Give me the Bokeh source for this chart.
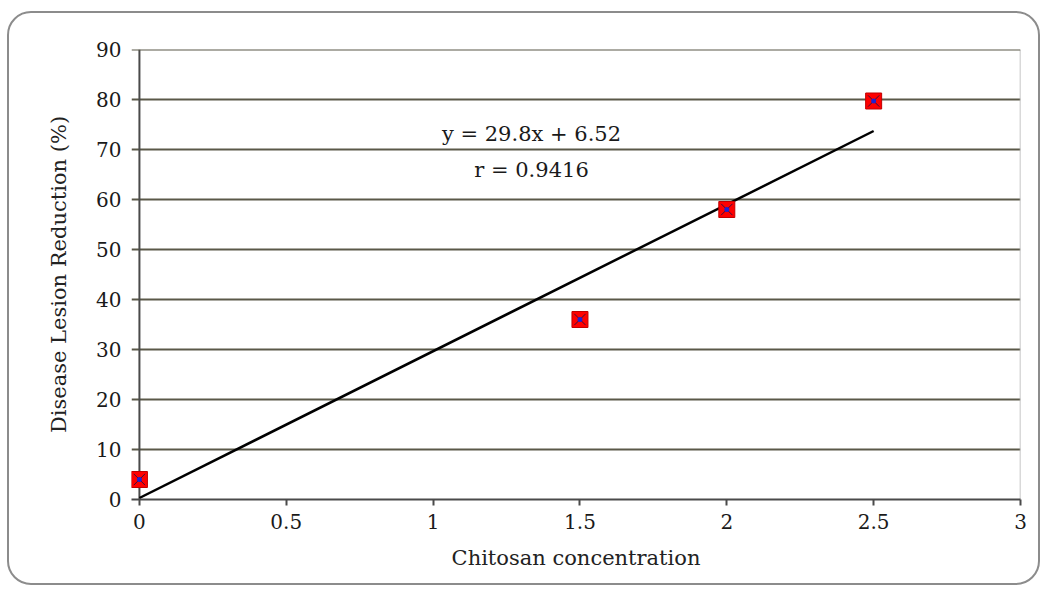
from bokeh.plotting import figure
from bokeh.models import Range1d, FixedTicker, NumeralTickFormatter, Label, Span
from bokeh.embed import file_html
from bokeh.resources import INLINE

# Data
conc = [0.0, 1.5, 2.0, 2.5]
reduction = [4.0, 36.0, 58.0, 79.7]
trend_x = [0.0, 2.5]
trend_y = [0.3, 73.7]
x_ticks = [0, 0.5, 1, 1.5, 2, 2.5, 3]
y_ticks = [0, 10, 20, 30, 40, 50, 60, 70, 80, 90]
eq_text = "y = 29.8x + 6.52"
r_text = "r = 0.9416"

FONT = "DejaVu Serif"

p = figure(width=1033, height=574, output_backend="svg", toolbar_location=None,
           x_range=Range1d(-0.027, 3), y_range=Range1d(0, 90),
           min_border_left=122, min_border_right=22, min_border_top=36, min_border_bottom=88)
p.styles = {"border": "2px solid #8c8c8c", "border-radius": "24px",
            "margin-left": "7px", "margin-top": "11px"}
p.border_fill_alpha = 0
p.background_fill_color = "white"
p.outline_line_color = None

p.xgrid.grid_line_color = None
p.ygrid.grid_line_color = "#5a5848"
p.ygrid.grid_line_width = 2

p.xaxis.ticker = FixedTicker(ticks=x_ticks)
p.yaxis.ticker = FixedTicker(ticks=y_ticks)
p.xaxis.formatter = NumeralTickFormatter(format="0.[0]")
p.xaxis.minor_tick_line_color = None
p.yaxis.minor_tick_line_color = None
for ax in (p.xaxis, p.yaxis):
    ax.axis_line_color = "#4a4a4a"
    ax.axis_line_width = 2
    ax.major_tick_line_color = "#4a4a4a"
    ax.major_tick_line_width = 2
    ax.major_tick_in = 0
    ax.major_label_text_font = FONT
    ax.major_label_text_font_size = "20px"
    ax.major_label_text_color = "#1a1a1a"
    ax.axis_label_text_font = FONT
    ax.axis_label_text_font_size = "21px"
    ax.axis_label_text_font_style = "normal"
    ax.axis_label_text_color = "#222222"
p.xaxis.major_tick_out = 6
p.yaxis.major_tick_out = 0
p.yaxis.axis_line_color = None

p.xaxis.axis_label = "Chitosan concentration"
p.yaxis.axis_label = "Disease Lesion Reduction (%)"
p.xaxis.major_label_standoff = 8
p.yaxis.major_label_standoff = 10
p.xaxis.axis_label_standoff = 14
p.yaxis.axis_label_standoff = 22

# y axis line at x = 0, right frame edge and top gridline
p.add_layout(Span(location=0, dimension="height", line_color="#4a4a4a", line_width=2,
                  level="underlay"))
p.add_layout(Span(location=3, dimension="height", line_color="#b4b4b4", line_width=1.5,
                  level="underlay"))
p.add_layout(Span(location=90, dimension="width", line_color="#5a5848", line_width=2,
                  level="underlay"))

p.line(trend_x, trend_y, line_color="black", line_width=2.5)

p.scatter(conc, reduction, marker="square", size=16, fill_color="#ff0000",
          line_color="#c00000", line_width=1)
p.scatter(conc, reduction, marker="x", size=16, line_color="#3a1040", line_width=1)
p.scatter(conc, reduction, marker="circle", size=5, fill_color="#2020d0", line_color=None)

p.add_layout(Label(x=1.335, y=73.1, text=eq_text, text_font=FONT, text_font_size="21px",
                   text_align="center", text_baseline="middle", text_color="#1a1a1a"))
p.add_layout(Label(x=1.335, y=65.9, text=r_text, text_font=FONT, text_font_size="21px",
                   text_align="center", text_baseline="middle", text_color="#1a1a1a"))

open("out.html", "w").write(file_html(p, INLINE))
